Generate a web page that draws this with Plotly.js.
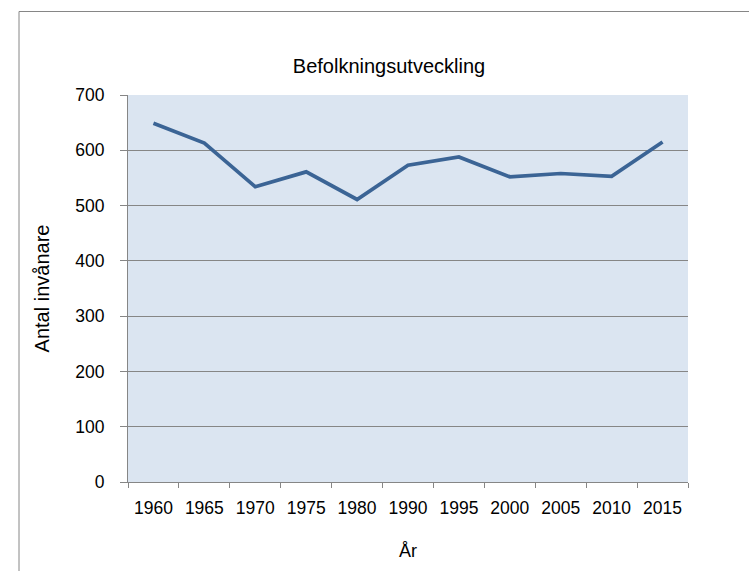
<!DOCTYPE html>
<html>
<head>
<meta charset="utf-8">
<script src="https://cdn.plot.ly/plotly-3.0.1.min.js"></script>
<style>html,body{margin:0;padding:0;background:#fff;}#chart{width:749px;height:571px;}</style>
</head>
<body>
<div id="chart"></div>
<script>
const years = ["1960","1965","1970","1975","1980","1990","1995","2000","2005","2010","2015"];
const population = [649, 613, 534, 561, 511, 573, 588, 552, 558, 553, 615];
const yTicks = [0, 100, 200, 300, 400, 500, 600, 700];

const FONT = "Liberation Sans, Arial, sans-serif";

const trace = {
  x: years,
  y: population,
  type: "scatter",
  mode: "lines",
  line: {color: "#3b6495", width: 3.7},
  hoverinfo: "skip"
};

const layout = {
  width: 749, height: 571,
  margin: {l: 128, r: 61, t: 95, b: 89},
  paper_bgcolor: "#ffffff",
  plot_bgcolor: "#dbe5f1",
  showlegend: false,
  font: {family: FONT, size: 18, color: "#000"},
  title: {text: "Befolkningsutveckling", xref: "container", x: 389/749, xanchor: "center", yref: "container", y: 1 - 66/571, yanchor: "middle", font: {family: FONT, size: 20, color: "#000"}},
  xaxis: {
    type: "category",
    categoryorder: "array",
    categoryarray: years,
    range: [-0.5, years.length - 0.5],
    tickson: "boundaries",
    ticks: "outside", ticklen: 5, tickcolor: "#868686", tickwidth: 1,
    showline: true, linecolor: "#868686", linewidth: 1,
    showgrid: false, zeroline: false,
    ticklabelstandoff: 10,
    tickfont: {family: FONT, size: 17.5, color: "#000"},
    title: {text: "År", font: {family: FONT, size: 18, color: "#000"}, standoff: 27}
  },
  yaxis: {
    range: [0, 700],
    tickvals: yTicks,
    ticktext: yTicks.map(String),
    ticks: "outside", ticklen: 7, tickcolor: "#868686", tickwidth: 1,
    showline: true, linecolor: "#868686", linewidth: 1,
    showgrid: true, gridcolor: "#868686", gridwidth: 1,
    zeroline: false,
    ticklabelstandoff: 12,
    tickfont: {family: FONT, size: 17.5, color: "#000"},
    title: {text: "Antal invånare", font: {family: FONT, size: 20, color: "#000"}, standoff: 20}
  },
  shapes: [{
    type: "rect", xref: "paper", yref: "paper", layer: "below",
    x0: (19 - 128) / 560, x1: 1.5,
    y0: -1, y1: (482 - 11.5) / 387,
    line: {color: "#868686", width: 1},
    fillcolor: "rgba(0,0,0,0)"
  }]
};

Plotly.newPlot("chart", [trace], layout, {staticPlot: true, displayModeBar: false});
</script>
</body>
</html>
